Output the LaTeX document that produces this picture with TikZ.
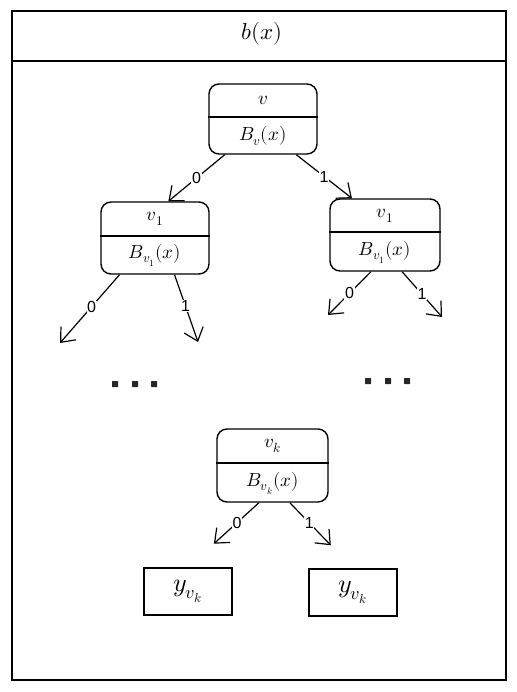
\documentclass[tikz,border=0pt]{standalone}
\usepackage{fontspec}
\usepackage{unicode-math}
\setsansfont{Liberation Sans}
\usetikzlibrary{arrows.meta}
\begin{document}
\begin{tikzpicture}[x=1pt,y=-1pt,
  frame/.style={draw, line width=1.4pt},
  box/.style={draw, line width=1.4pt, rounded corners=10pt, inner sep=0pt},
  leaf/.style={draw, line width=1.4pt, inner sep=0pt, minimum width=88pt, minimum height=47pt, font=\fontsize{26}{29}\selectfont},
  lbl/.style={font=\fontsize{19}{22}\selectfont, inner sep=0pt},
  divider/.style={line width=1.4pt},
  edge/.style={line width=1.2pt, -{Straight Barb[length=12pt,width=20pt,line width=1.2pt]}},
  elab/.style={font=\sffamily\fontsize{16}{18}\selectfont, fill=white, inner sep=0.6pt},
  dot/.style={fill=black!85, rounded corners=0.5pt},
]
\useasboundingbox (0,0) rectangle (516,692);

% outer frame and header
\draw[frame] (12,11) rectangle (506,680);
\draw[divider] (12,61) -- (506,61);
\node[font=\fontsize{23}{26}\selectfont] (hdr) at (262,34) {$b(x)$};

% root v
\node[box, minimum width=108pt, minimum height=70pt] (r) at (263,119) {};
\draw[divider] (r.west |- 0,117) -- (r.east |- 0,117);
\node[lbl] (rt) at (263,100) {$v$};
\node[lbl] (rb) at (263,136) {$B_{v}(x)$};

% left v1
\node[box, minimum width=108pt, minimum height=72pt] (a) at (155,238) {};
\draw[divider] (a.west |- 0,236) -- (a.east |- 0,236);
\node[lbl] (at) at (155,219) {$v_1$};
\node[lbl] (ab) at (155,255) {$B_{v_1}(x)$};

% right v1
\node[box, minimum width=110pt, minimum height=72pt] (b) at (385,235) {};
\draw[divider] (b.west |- 0,232) -- (b.east |- 0,232);
\node[lbl] (bt) at (385,216) {$v_1$};
\node[lbl] (bb) at (385,252) {$B_{v_1}(x)$};

% vk
\node[box, minimum width=111pt, minimum height=73pt] (c) at (272.5,465.5) {};
\draw[divider] (c.west |- 0,463) -- (c.east |- 0,463);
\node[lbl] (ct) at (272.5,446) {$v_k$};
\node[lbl] (cb) at (272.5,483) {$B_{v_k}(x)$};

% leaves
\node[leaf] (lL) at (188,591.5) {$y_{v_k}$};
\node[leaf] (lR) at (353,592.5) {$y_{v_k}$};

% free ends
\coordinate (aL) at (60,343);
\coordinate (aR) at (198,342);
\coordinate (bL) at (328,315);
\coordinate (bR) at (442,317);

% connectors
\draw[edge] (r.223) -- node[elab] {0} (a.70);
\draw[edge] (r.313) -- node[elab] {1} (b.132);
\draw[edge] (a.226) -- node[elab, pos=0.47] {0} (aL);
\draw[edge] (a.298) -- node[elab, pos=0.47] {1} (aR);
\draw[edge] (b.249) -- node[elab] {0} (bL);
\draw[edge] (b.295) -- node[elab] {1} (bR);
\draw[edge, shorten >=35pt] (c.250) -- node[elab, pos=0.31] {0} (lL.north);
\draw[edge, shorten >=32pt] (c.295) -- node[elab, pos=0.31] {1} (lR.north);

% ellipses
\foreach \x in {115,135,154} \fill[dot] (\x-3,381) rectangle (\x+3,387);
\foreach \x in {368,388,407} \fill[dot] (\x-3,378) rectangle (\x+3,384);
\end{tikzpicture}
\end{document}
